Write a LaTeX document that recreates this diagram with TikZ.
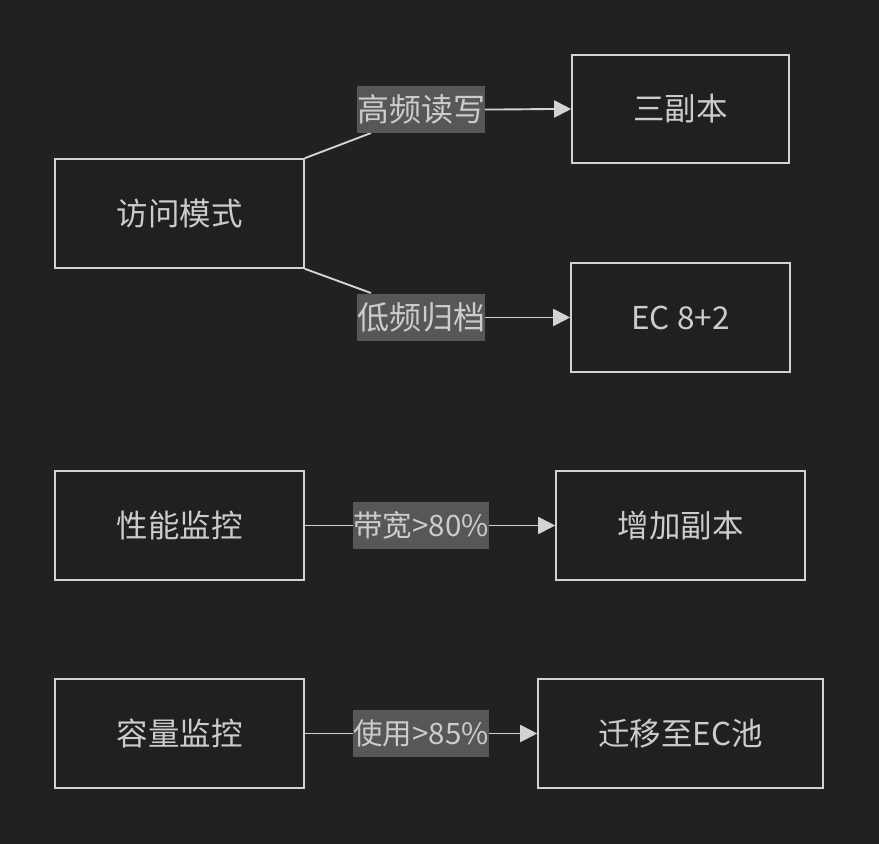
\documentclass[tikz,border=0pt]{standalone}
\usepackage{fontspec}
\setmainfont{Noto Sans CJK SC}
\usetikzlibrary{arrows.meta}
\definecolor{bg}{HTML}{212121}
\definecolor{boxfill}{HTML}{1F2020}
\definecolor{edge}{HTML}{D3D3D3}
\definecolor{lbl}{HTML}{575757}
\definecolor{txt}{HTML}{CCCCCC}
\begin{document}
\begin{tikzpicture}[x=1pt,y=-1pt,
  box/.style={draw=edge,line width=1.6pt,fill=boxfill,text=txt,font=\fontsize{31.5}{36}\selectfont,inner sep=0pt,anchor=center},
  elabel/.style={fill=lbl,text=txt,font=\fontsize{32}{36}\selectfont,inner sep=0pt,minimum height=47pt,anchor=center},
  conn/.style={draw=edge,line width=1.9pt},
  arr/.style={conn,-{Triangle[length=17pt,width=17pt]}}]
\fill[bg] (0,0) rectangle (879,844);
\useasboundingbox (0,0) rectangle (879,844);
\node[box,minimum width=249pt,minimum height=109pt] (A) at (179.5,213.5) {访问模式};
\node[box,minimum width=217pt,minimum height=108pt] (B) at (680.5,109) {三副本};
\node[box,minimum width=219pt,minimum height=109pt] (C) at (680.5,317.5) {EC 8+2};
\node[box,minimum width=249pt,minimum height=109pt] (D) at (179.5,525.5) {性能监控};
\node[box,minimum width=249pt,minimum height=109pt] (E) at (680.5,525.5) {增加副本};
\node[box,minimum width=249pt,minimum height=109pt] (F) at (179.5,733.5) {容量监控};
\node[box,minimum width=285pt,minimum height=109pt] (G) at (680.5,733.5) {迁移至EC池};
\coordinate (p1) at (371,133);
\coordinate (p2) at (371,293);
\draw[conn] (A.north east) -- (p1);
\draw[conn] (A.south east) -- (p2);
\node[elabel,minimum width=128pt] (L1) at (421,109.5) {高频读写};
\node[elabel,minimum width=128pt] (L2) at (421,317.5) {低频归档};
\draw[arr] (L1.east) to[out=0,in=180] (B.west);
\draw[arr] (L2.east) to[out=0,in=180] (C.west);
\draw[conn] (D.east) -- (354,525.5) coordinate (q1);
\node[elabel,minimum width=134pt,font=\fontsize{29.5}{36}\selectfont] (L3) at (421,525.5) {带宽>80\%};
\draw[arr] (L3.east) -- (E.west);
\draw[conn] (F.east) -- (354,733.5) coordinate (q2);
\node[elabel,minimum width=134pt,font=\fontsize{29.5}{36}\selectfont] (L4) at (421,733.5) {使用>85\%};
\draw[arr] (L4.east) -- (G.west);
\end{tikzpicture}
\end{document}
